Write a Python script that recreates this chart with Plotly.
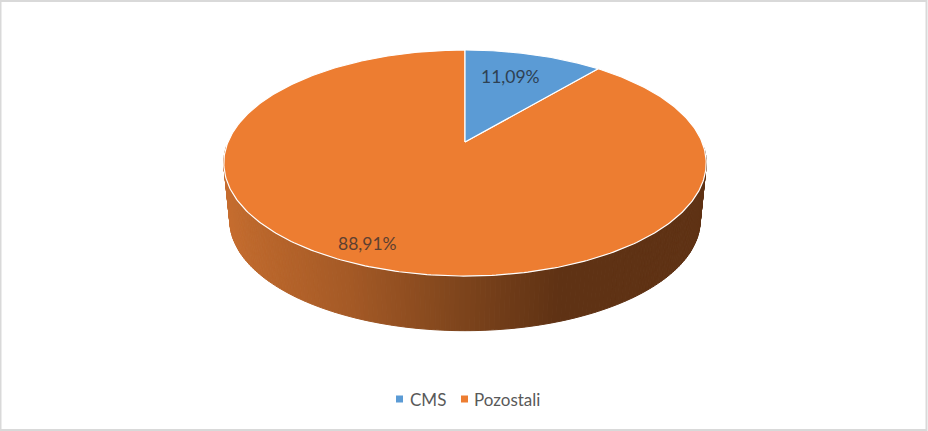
import numpy as np
import plotly.graph_objects as go

# data
categories = ['CMS', 'Pozostali']
shares = [11.09, 88.91]
slice_colors = ['#5B9BD5', '#ED7D31']

W, H = 928, 431
# perspective of the disc, measured in page pixels
CX, CY = 465, 142
RX, RY, PERSP = 237, 109.1, 0.186
WALL_DROP, WALL_SCALE = 58, 0.975

# wall shading from left to right
shade_x = [224, 250, 350, 465, 560, 706]
shade_r = [200, 190, 165, 125, 95, 95]
shade_g = [110, 105, 90, 68, 50, 50]
shade_b = [48, 45, 38, 28, 20, 20]


def project(theta, r=1.0, drop=0, scale=1.0):
    #theta runs clockwise from 12 o'clock
    u = r * np.sin(theta)
    v = r * np.cos(theta)
    w = 1 + PERSP * v
    return CX + scale * RX * u / w, CY + drop - scale * RY * v / w


fig = go.Figure()

#side wall first, far strips before near ones, the back of the wall is never seen
edges = np.linspace(0, 2 * np.pi, 361)
strips = sorted(zip(edges[:-1], edges[1:]), key=lambda s: -np.cos(s[0]))
for a, b in strips:
    if np.cos(a) > -0.05:
        continue
    t = np.array([a, b])
    x1, y1 = project(t)
    x2, y2 = project(t[::-1], drop=WALL_DROP, scale=WALL_SCALE)
    xs = list(x1) + list(x2) + [x1[0]]
    ys = list(y1) + list(y2) + [y1[0]]
    mid = np.mean(xs)
    color = 'rgb(%d,%d,%d)' % (np.interp(mid, shade_x, shade_r),
                               np.interp(mid, shade_x, shade_g),
                               np.interp(mid, shade_x, shade_b))
    fig.add_trace(go.Scatter(x=xs, y=ys, mode='lines', fill='toself', fillcolor=color,
                             line=dict(color=color, width=1), showlegend=False, hoverinfo='skip'))

#top of the pie, slices come from the shares
total = sum(shares)
for name, share, color in zip(categories[::-1], shares[::-1], slice_colors[::-1]):
    #second category is drawn first so the blue one keeps its white edge
    if name == categories[0]:
        a, b = 0.0, 2 * np.pi * share / total
    else:
        a, b = 2 * np.pi * shares[0] / total, 2 * np.pi
    t = np.linspace(a, b, 400)
    ax, ay = project(t)
    apex_x, apex_y = project(np.array([0.0]), r=0.0)
    fig.add_trace(go.Scatter(x=[apex_x[0]] + list(ax) + [apex_x[0]],
                             y=[apex_y[0]] + list(ay) + [apex_y[0]],
                             mode='lines', fill='toself', fillcolor=color,
                             line=dict(color='white', width=1.2),
                             showlegend=False, hoverinfo='skip'))

#data labels
label_pos = [(510, 76), (367, 243)]
label_colors = ['#2E4153', '#5E4030']
for share, (lx, ly), c in zip(shares, label_pos, label_colors):
    fig.add_annotation(x=lx, y=ly, text=f'{share:.2f}%'.replace('.', ','), showarrow=False,
                       font=dict(family='Lato', size=17.5, color=c))

#legend drawn by hand, plotly keeps too wide a gap between swatch and text
key_x = [399.5, 464.5]
text_x = [409, 473]
fig.add_trace(go.Scatter(x=key_x, y=[399, 399], mode='markers', showlegend=False, hoverinfo='skip',
                         marker=dict(symbol='square', size=7, color=slice_colors)))
for name, tx in zip(categories, text_x):
    fig.add_annotation(x=tx, y=399, text=name, showarrow=False, xanchor='left',
                       xshift=-1, font=dict(family='Lato', size=17, color='#595959'))

fig.update_layout(
    width=W, height=H,
    margin=dict(l=0, r=0, t=0, b=0),
    paper_bgcolor='white', plot_bgcolor='white',
    showlegend=False,
    xaxis=dict(range=[0, W], visible=False, fixedrange=True),
    yaxis=dict(range=[H, 0], visible=False, fixedrange=True),
    shapes=[dict(type='rect', xref='x', yref='y', x0=0.5, y0=1, x1=926.5, y1=430,
                 line=dict(color='#D9D9D9', width=2))],
)

fig.write_html('out.html', config={'displayModeBar': False},
               post_script="document.body.style.margin='0';document.body.style.overflow='hidden';")
